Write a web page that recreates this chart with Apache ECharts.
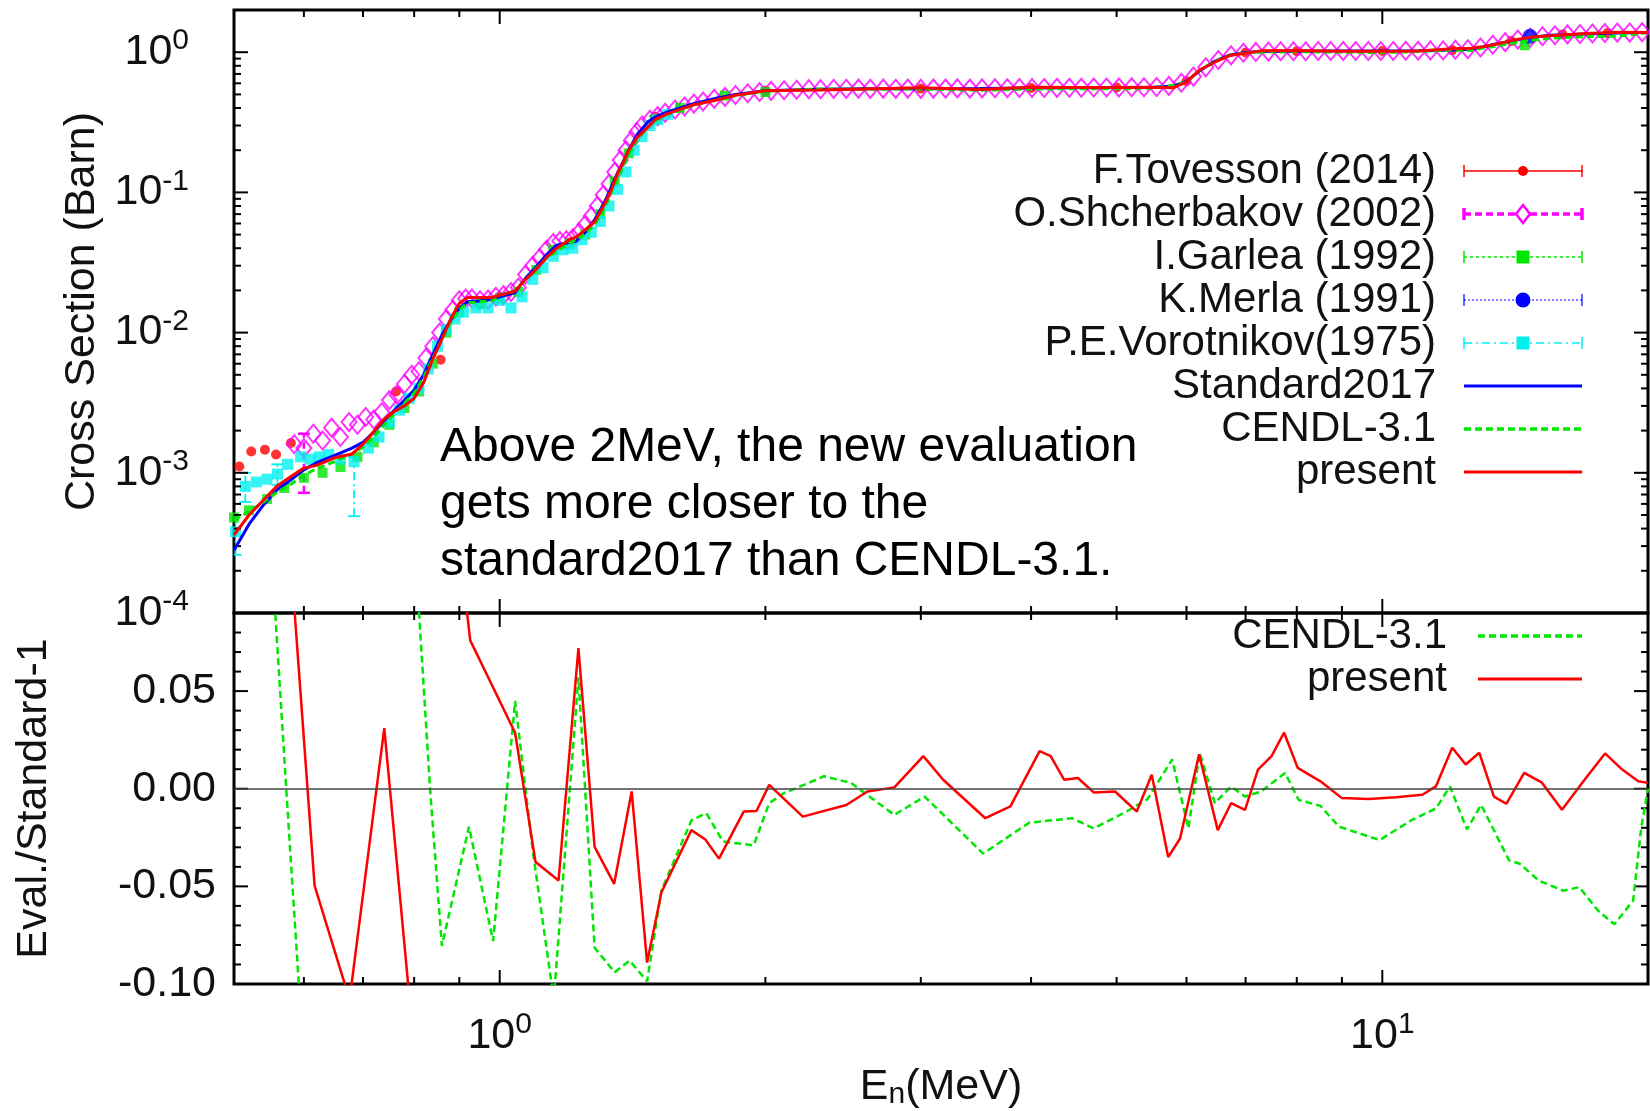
<!DOCTYPE html>
<html>
<head>
<meta charset="utf-8">
<script src="https://cdn.jsdelivr.net/npm/echarts@6.0.0/dist/echarts.min.js"></script>
<style>
  html, body { margin: 0; padding: 0; background: #fff; }
  #root { width: 1650px; height: 1111px; }
</style>
</head>
<body>
<div id="root"></div>
<script>
// ---- evaluated curves, energies in MeV, cross sections in barn ----
const curveE = [0.5, 0.52, 0.54, 0.56, 0.58, 0.6, 0.62, 0.65, 0.68, 0.7, 0.72, 0.74, 0.76, 0.78, 0.8, 0.82, 0.84, 0.86, 0.88, 0.9,
  0.92, 0.95, 0.98, 1.0, 1.04, 1.07, 1.1, 1.13, 1.16, 1.2, 1.22, 1.25, 1.28, 1.3, 1.32, 1.34, 1.36, 1.38, 1.4, 1.43,
  1.47, 1.5, 1.55, 1.65, 1.75, 1.85, 2.0, 2.3, 2.6, 3.0, 3.5, 4.0, 4.5, 5.0, 5.5, 5.8, 6.0, 6.2, 6.45, 6.7,
  7.0, 7.3, 8.0, 9.0, 10.0, 11.0, 12.0, 12.6, 13.0, 13.4, 14.0, 14.5, 15.0, 15.5, 17.0, 18.5, 20.0]
const standard2017 = [2.8e-4, 4.3e-4, 5.9e-4, 7.6e-4, 8.9e-4, 1.05e-3, 1.18e-3, 1.33e-3, 1.5e-3, 1.65e-3,
  1.95e-3, 2.35e-3, 2.8e-3, 3.3e-3, 3.9e-3, 5.0e-3, 7.0e-3, 9.6e-3, 0.0123, 0.015,
  0.0166, 0.0168, 0.0172, 0.018, 0.0192, 0.0245, 0.0295, 0.036, 0.042, 0.044,
  0.0448, 0.052, 0.0633, 0.075, 0.09, 0.112, 0.138, 0.165, 0.2, 0.256,
  0.316, 0.345, 0.375, 0.425, 0.465, 0.5, 0.53, 0.545, 0.548, 0.548,
  0.55, 0.555, 0.558, 0.56, 0.562, 0.575, 0.62, 0.73, 0.86, 0.95,
  0.995, 1.01, 1.015, 1.02, 1.02, 1.025, 1.035, 1.05, 1.09, 1.14,
  1.2, 1.25, 1.29, 1.32, 1.35, 1.37, 1.38]
const cendl31 = [4.6e-4, 5.3e-4, 6.2e-4, 7.3e-4, 8.3e-4, 9.6e-4, 1.07e-3, 1.2e-3, 1.36e-3, 1.52e-3,
  1.8e-3, 2.2e-3, 2.65e-3, 3.15e-3, 3.7e-3, 4.8e-3, 6.6e-3, 9.0e-3, 0.0118, 0.0146,
  0.0163, 0.0166, 0.0168, 0.0185, 0.0198, 0.0238, 0.0287, 0.034, 0.038, 0.0435,
  0.046, 0.0505, 0.0585, 0.068, 0.082, 0.102, 0.126, 0.152, 0.185, 0.235,
  0.29, 0.325, 0.361, 0.415, 0.454, 0.489, 0.526, 0.547, 0.545, 0.546,
  0.535, 0.546, 0.549, 0.548, 0.555, 0.58, 0.61, 0.74, 0.855, 0.945,
  0.99, 1.0, 1.01, 1.0, 0.995, 1.01, 1.035, 1.03, 1.07, 1.1,
  1.155, 1.2, 1.23, 1.26, 1.29, 1.3, 1.38]
const present = [3.6e-4, 5.0e-4, 6.4e-4, 8.1e-4, 9.4e-4, 1.08e-3, 1.13e-3, 1.28e-3, 1.36e-3, 1.6e-3,
  1.97e-3, 2.42e-3, 2.75e-3, 3.0e-3, 3.4e-3, 4.4e-3, 6.5e-3, 9.0e-3, 0.0125, 0.0162,
  0.0178, 0.0178, 0.0178, 0.0185, 0.0197, 0.024, 0.0283, 0.0344, 0.040, 0.046,
  0.048, 0.054, 0.0615, 0.0725, 0.087, 0.107, 0.137, 0.163, 0.2, 0.245,
  0.29, 0.33, 0.365, 0.418, 0.452, 0.493, 0.531, 0.538, 0.547, 0.557,
  0.542, 0.562, 0.561, 0.559, 0.562, 0.558, 0.613, 0.743, 0.845, 0.943,
  0.985, 1.025, 1.028, 1.015, 1.016, 1.022, 1.057, 1.068, 1.094, 1.136,
  1.21, 1.26, 1.295, 1.31, 1.36, 1.39, 1.384]

// ---- experimental data ----
const tovessonE = [0.507, 0.523, 0.542, 0.558, 0.58, 0.763, 0.857, 1.0, 1.2, 1.5, 2.0, 3.0, 4.0, 5.0, 6.0, 7.0, 8.0, 10.0, 12.0, 14.0, 16.0, 18.0]
const tovessonXS = [1.11e-3, 1.42e-3, 1.46e-3, 1.35e-3, 1.63e-3, 3.8e-3, 6.4e-3, 1.8e-2, 4.4e-2, 0.345, 0.53, 0.55, 0.555, 0.56, 0.62, 0.995, 1.015, 1.02, 1.035, 1.2, 1.34, 1.37]

const shcherbakovE = [0.585, 0.60, 0.615, 0.63, 0.645, 0.66, 0.675, 0.69, 0.705, 0.72,
  0.735, 0.75, 0.765, 0.78, 0.795, 0.81, 0.825, 0.84, 0.855, 0.87,
  0.885, 0.90, 0.915, 0.93, 0.95, 0.97, 0.99, 1.01, 1.03, 1.05,
  1.07, 1.09, 1.11, 1.13, 1.15, 1.17, 1.19, 1.21, 1.23, 1.25,
  1.27, 1.29, 1.31, 1.33, 1.35, 1.37, 1.39, 1.41, 1.43, 1.45,
  1.48, 1.51, 1.54, 1.58, 1.62, 1.66, 1.70, 1.75, 1.80, 1.85,
  1.91, 1.97, 2.03, 2.10, 2.17, 2.24, 2.31, 2.39, 2.47, 2.55,
  2.63, 2.72, 2.81, 2.90, 3.00, 3.10, 3.20, 3.30, 3.41, 3.52,
  3.64, 3.76, 3.88, 4.01, 4.14, 4.28, 4.42, 4.56, 4.71, 4.87,
  5.03, 5.20, 5.37, 5.55, 5.73, 5.92, 6.11, 6.31, 6.52, 6.74,
  6.96, 7.19, 7.43, 7.67, 7.93, 8.19, 8.46, 8.74, 9.03, 9.33,
  9.64, 9.96, 10.29, 10.63, 10.98, 11.34, 11.72, 12.10, 12.50, 12.92,
  13.34, 13.78, 14.24, 14.71, 15.19, 15.69, 16.21, 16.75, 17.30, 17.87,
  18.46, 19.07, 19.70]
const shcherbakovXS = [1.6e-3, 1.5e-3, 1.9e-3, 1.7e-3, 2.1e-3, 1.8e-3, 2.3e-3, 2.2e-3, 2.5e-3, 2.4e-3,
  2.7e-3, 3.3e-3, 3.6e-3, 4.3e-3, 5.0e-3, 5.3e-3, 6.6e-3, 8.0e-3, 1.0e-2, 1.25e-2,
  1.45e-2, 1.7e-2, 1.75e-2, 1.75e-2, 1.7e-2, 1.72e-2, 1.8e-2, 1.85e-2, 1.95e-2, 2.1e-2,
  2.6e-2, 3.0e-2, 3.4e-2, 3.9e-2, 4.35e-2, 4.5e-2, 4.55e-2, 4.7e-2, 5.2e-2, 5.9e-2,
  6.8e-2, 8.0e-2, 9.6e-2, 0.115, 0.14, 0.17, 0.2, 0.235, 0.27, 0.3,
  0.33, 0.35, 0.37, 0.39, 0.41, 0.43, 0.445, 0.465, 0.48, 0.495,
  0.51, 0.52, 0.53, 0.535, 0.54, 0.545, 0.545, 0.548, 0.548, 0.55,
  0.548, 0.55, 0.548, 0.55, 0.548, 0.55, 0.55, 0.552, 0.55, 0.552,
  0.553, 0.553, 0.555, 0.555, 0.556, 0.557, 0.558, 0.558, 0.56, 0.56,
  0.56, 0.562, 0.562, 0.565, 0.575, 0.605, 0.67, 0.78, 0.88, 0.95,
  0.99, 1.005, 1.01, 1.015, 1.015, 1.015, 1.02, 1.02, 1.02, 1.02,
  1.02, 1.02, 1.02, 1.025, 1.025, 1.03, 1.03, 1.04, 1.05, 1.08,
  1.13, 1.18, 1.23, 1.27, 1.3, 1.32, 1.34, 1.35, 1.36, 1.37,
  1.38, 1.38, 1.39]
const shcherbakovBars = [[0.6, 7.2e-4, 1.9e-3]]

const garleaE = [0.5, 0.52, 0.545, 0.57, 0.6, 0.63, 0.66, 0.69, 0.72, 0.75,
  0.78, 0.81, 0.84, 0.87, 0.9, 0.95, 1.0, 1.05, 1.1, 1.15,
  1.2, 1.25, 1.3, 1.35, 1.4, 1.5, 1.6, 1.8, 2.0, 14.5]
const garleaXS = [4.8e-4, 5.4e-4, 6.5e-4, 7.8e-4, 9.2e-4, 1.0e-3, 1.1e-3, 1.3e-3, 1.65e-3, 2.2e-3,
  2.9e-3, 3.8e-3, 6.0e-3, 1.0e-2, 1.4e-2, 1.6e-2, 1.75e-2, 1.95e-2, 2.8e-2, 3.9e-2,
  4.3e-2, 5.0e-2, 7.0e-2, 0.12, 0.19, 0.33, 0.4, 0.49, 0.52, 1.12]

const merlaE = [14.7]
const merlaXS = [1.3]

const vorotnikovE = [0.502, 0.515, 0.53, 0.545, 0.56, 0.575, 0.595, 0.61, 0.625, 0.64,
  0.66, 0.684, 0.71, 0.73, 0.75, 0.77, 0.79, 0.81, 0.83, 0.85,
  0.87, 0.89, 0.91, 0.94, 0.97, 1.0, 1.03, 1.06, 1.09, 1.12,
  1.15, 1.18, 1.21, 1.24, 1.27, 1.3, 1.33, 1.36, 1.39, 1.42,
  1.45, 1.48, 1.51, 1.55]
const vorotnikovXS = [3.8e-4, 8.0e-4, 8.6e-4, 9.0e-4, 9.8e-4, 1.15e-3, 1.3e-3, 1.25e-3, 1.3e-3, 1.35e-3,
  1.25e-3, 1.2e-3, 1.5e-3, 1.8e-3, 2.3e-3, 2.8e-3, 3.4e-3, 4.0e-3, 5.5e-3, 8.0e-3,
  1.05e-2, 1.25e-2, 1.4e-2, 1.5e-2, 1.5e-2, 1.7e-2, 1.5e-2, 1.8e-2, 2.4e-2, 2.9e-2,
  3.5e-2, 3.9e-2, 4.0e-2, 4.6e-2, 5.2e-2, 6.2e-2, 8.0e-2, 0.105, 0.14, 0.2,
  0.25, 0.3, 0.33, 0.36]
const vorotnikovBars = [[0.502, 2.6e-4, 5.0e-4], [0.515, 6.2e-4, 1.0e-3], [0.56, 8.2e-4, 1.15e-3], [0.684, 4.9e-4, 1.3e-3]]

// ---- Eval./Standard-1 ('-' = line leaves the frame) ----
const ratioCendlE = [0.548, 0.573, 0.596, 0.70, 0.80, 0.834, 0.86, 0.923, 0.983, 1.041,
  1.091, 1.144, 1.152, 1.228, 1.281, 1.35, 1.403, 1.469, 1.525, 1.65,
  1.715, 1.79, 1.94, 2.02, 2.1, 2.205, 2.33, 2.5, 2.8, 3.03,
  3.53, 3.98, 4.45, 4.71, 5.13, 5.42, 5.78, 6.03, 6.21, 6.46,
  6.74, 6.99, 7.29, 7.76, 8.04, 8.51, 8.93, 9.93, 10.8, 11.51,
  11.93, 12.47, 12.94, 13.92, 14.31, 15.04, 16.03, 16.72, 17.56, 18.32,
  19.24, 19.65, 20]
const ratioCendl = [0.14, 0.0, -0.12, '-', 0.13, -0.0005, -0.0805, -0.0195, -0.078, 0.045,
  -0.033, -0.0986, -0.107, 0.057, -0.0814, -0.094, -0.088, -0.0986, -0.052, -0.016,
  -0.0126, -0.027, -0.029, -0.0074, -0.0022, 0.0017, 0.0064, 0.003, -0.0134, -0.004,
  -0.0332, -0.0174, -0.0151, -0.0203, -0.0117, -0.0053, 0.015, -0.0203, 0.0184, -0.0074,
  0.0012, -0.004, -0.0014, 0.0081, -0.0057, -0.0088, -0.0194, -0.0263, -0.016, -0.01,
  0.0012, -0.0208, -0.0083, -0.0367, -0.0384, -0.047, -0.0522, -0.0504, -0.0625, -0.0694,
  -0.0573, -0.02, 0.0]
const ratioPresentE = [0.575, 0.617, 0.676, 0.74, 0.795, 0.85, 0.905, 0.926, 1.041, 1.098,
  1.166, 1.228, 1.281, 1.348, 1.411, 1.469, 1.525, 1.649, 1.71, 1.772,
  1.89, 1.954, 2.02, 2.205, 2.47, 2.61, 2.8, 3.02, 3.18, 3.55,
  3.79, 4.09, 4.21, 4.36, 4.52, 4.71, 4.98, 5.27, 5.48, 5.72,
  5.9, 6.2, 6.51, 6.74, 6.99, 7.23, 7.49, 7.74, 8.02, 8.51,
  9.0, 9.65, 10.36, 11.1, 11.5, 12.0, 12.43, 12.88, 13.38, 13.82,
  14.48, 15.15, 15.98, 16.95, 17.88, 18.7, 19.5, 20]
const ratioPresent = [0.14, -0.0496, -0.108, 0.031, -0.12, '-', 0.115, 0.076, 0.0287, -0.0375,
  -0.047, 0.072, -0.0298, -0.0487, -0.0014, -0.089, -0.053, -0.0212, -0.026, -0.0358,
  -0.0117, -0.0114, 0.002, -0.0143, -0.0083, -0.0014, 0.0007, 0.0167, 0.0046, -0.0151,
  -0.009, 0.0193, 0.0167, 0.0046, 0.0055, -0.0019, -0.0014, -0.0117, 0.0072, -0.035,
  -0.0255, 0.0176, -0.0212, -0.0074, -0.0108, 0.0098, 0.0167, 0.0287, 0.0107, 0.0038,
  -0.0048, -0.0053, -0.0043, -0.0031, 0.0012, 0.021, 0.0124, 0.0184, -0.004, -0.0077,
  0.0081, 0.0033, -0.0108, 0.0046, 0.0181, 0.0098, 0.0038, 0.003]

// ---- ticks ----
const xTicksMajor = [1, 10]
const xTicksMinor = [0.5, 0.6, 0.7, 0.8, 0.9, 2, 3, 4, 5, 6, 7, 8, 9, 20]
const yDecades = [1e-4, 1e-3, 1e-2, 1e-1, 1]
const yMantissas = [2, 3, 4, 5, 6, 7, 8, 9]
const yTicksMinorTop = yDecades.flatMap(d => yMantissas.map(m => m * d)).filter(v => v <= 2)
const yTicksMajorBottom = [-0.1, -0.05, 0, 0.05]
const yTicksMinorBottom = [-0.09, -0.08, -0.07, -0.06, -0.04, -0.03, -0.02, -0.01, 0.01, 0.02, 0.03, 0.04, 0.06, 0.07, 0.08]

const annotation = ['Above 2MeV, the new evaluation', 'gets more closer to the', 'standard2017 than CENDL-3.1.']

// ---- styles ----
const FONT = '"Liberation Sans", Arial, Helvetica, sans-serif'
const RED = '#ff0000'
const GREEN = '#00e600'
const BLUE = '#0000ff'
const MAGENTA = '#ff00ff'
const CYAN = '#00f0f0'
const TEXT = '#111'
const FS = 43
const MAJOR = 14
const MINOR = 7

const zip = (xs, ys) => xs.map((x, i) => [x, ys[i]])

const supRich = {
  b: { fontSize: FS, fontFamily: FONT, color: TEXT },
  s: { fontSize: 30, fontFamily: FONT, color: TEXT, verticalAlign: 'top', padding: [0, 0, 22, 0] }
}
const powLabel = v => '{b|10}{s|' + Math.round(Math.log10(v)) + '}'

function plainAxis (type, gridIndex, min, max, extra) {
  const a = {
    type, gridIndex, min, max,
    axisLine: { show: false, onZero: false },
    axisTick: { show: false },
    splitLine: { show: false },
    axisLabel: { show: false }
  }
  if (type === 'log') a.logBase = 10
  return Object.assign(a, extra || {})
}

const xAxes = [
  plainAxis('log', 0, 0.5, 20),
  plainAxis('log', 1, 0.5, 20, {
    axisLabel: { show: true, customValues: xTicksMajor, margin: 26, formatter: powLabel, rich: supRich },
    name: '{b|E}{n|n}{b|(MeV)}',
    nameLocation: 'middle',
    nameGap: 80,
    nameTextStyle: {
      rich: {
        b: { fontSize: FS, fontFamily: FONT, color: TEXT },
        n: { fontSize: 30, fontFamily: FONT, color: TEXT, verticalAlign: 'bottom', padding: [16, 0, 0, 0] }
      }
    }
  })
]

const yAxes = [
  plainAxis('log', 0, 1e-4, 2, {
    axisLabel: { show: true, customValues: yDecades, margin: 45, formatter: powLabel, rich: supRich },
    name: 'Cross Section (Barn)',
    nameLocation: 'middle',
    nameRotate: 90,
    nameGap: 128,
    nameTextStyle: { fontSize: FS, fontFamily: FONT, color: TEXT }
  }),
  plainAxis('value', 1, -0.1, 0.09, {
    axisLabel: {
      show: true, customValues: yTicksMajorBottom, margin: 18,
      formatter: v => v.toFixed(2), fontSize: FS, fontFamily: FONT, color: TEXT
    },
    name: 'Eval./Standard-1',
    nameLocation: 'middle',
    nameRotate: 90,
    nameGap: 178,
    nameTextStyle: { fontSize: FS, fontFamily: FONT, color: TEXT }
  })
]

// inward ticks on all four sides of a frame, placed through the axis scales
function frameTicks (axisIndex, xRef, yRef, yMajor, yMinor) {
  const data = [
    ...xTicksMajor.map(v => [v, yRef, MAJOR, 0]),
    ...xTicksMinor.map(v => [v, yRef, MINOR, 0]),
    ...yMajor.map(v => [xRef, v, MAJOR, 1]),
    ...yMinor.map(v => [xRef, v, MINOR, 1])
  ]
  return {
    type: 'custom',
    xAxisIndex: axisIndex,
    yAxisIndex: axisIndex,
    silent: true,
    clip: false,
    z: 3,
    dimensions: ['x', 'y', 'len', 'dir'],
    encode: { x: 0, y: 1 },
    data,
    renderItem (params, api) {
      const cs = params.coordSys
      const p = api.coord([api.value(0), api.value(1)])
      const len = api.value(2)
      const style = { stroke: '#000', lineWidth: 2 }
      const bottom = cs.y + cs.height
      const right = cs.x + cs.width
      const children = api.value(3) === 0
        ? [
            { type: 'line', shape: { x1: p[0], y1: bottom, x2: p[0], y2: bottom - len }, style },
            { type: 'line', shape: { x1: p[0], y1: cs.y, x2: p[0], y2: cs.y + len }, style }
          ]
        : [
            { type: 'line', shape: { x1: cs.x, y1: p[1], x2: cs.x + len, y2: p[1] }, style },
            { type: 'line', shape: { x1: right, y1: p[1], x2: right - len, y2: p[1] }, style }
          ]
      return { type: 'group', children }
    }
  }
}

function errorBars (data, color, dash, width) {
  return {
    type: 'custom',
    xAxisIndex: 0,
    yAxisIndex: 0,
    silent: true,
    clip: true,
    dimensions: ['x', 'lo', 'hi'],
    encode: { x: 0, y: [1, 2] },
    data,
    renderItem (params, api) {
      const lo = api.coord([api.value(0), api.value(1)])
      const hi = api.coord([api.value(0), api.value(2)])
      const cap = 6
      return {
        type: 'group',
        children: [
          { type: 'line', shape: { x1: lo[0], y1: lo[1], x2: hi[0], y2: hi[1] }, style: { stroke: color, lineWidth: width, lineDash: dash } },
          { type: 'line', shape: { x1: lo[0] - cap, y1: lo[1], x2: lo[0] + cap, y2: lo[1] }, style: { stroke: color, lineWidth: width } },
          { type: 'line', shape: { x1: hi[0] - cap, y1: hi[1], x2: hi[0] + cap, y2: hi[1] }, style: { stroke: color, lineWidth: width } }
        ]
      }
    }
  }
}

function scatter (name, data, symbol, size, itemStyle) {
  return { type: 'scatter', name, xAxisIndex: 0, yAxisIndex: 0, data, symbol, symbolSize: size, itemStyle, silent: true }
}

function line (name, data, color, width, dash, idx) {
  return {
    type: 'line', name, xAxisIndex: idx, yAxisIndex: idx, data,
    showSymbol: false, symbol: 'none', silent: true, clip: true, connectNulls: false,
    lineStyle: { color, width, type: dash || 'solid' }
  }
}

const series = [
  frameTicks(0, 1, 1e-2, yDecades, yTicksMinorTop),
  frameTicks(1, 1, 0, yTicksMajorBottom, yTicksMinorBottom),
  scatter('F.Tovesson (2014)', zip(tovessonE, tovessonXS), 'circle', 10, { color: RED }),
  errorBars(shcherbakovBars, MAGENTA, [7, 4], 2.5),
  scatter('O.Shcherbakov (2002)', zip(shcherbakovE, shcherbakovXS), 'diamond', [15, 18], { color: 'rgba(0,0,0,0)', borderColor: MAGENTA, borderWidth: 2 }),
  scatter('I.Garlea (1992)', zip(garleaE, garleaXS), 'rect', 10, { color: GREEN }),
  scatter('K.Merla (1991)', zip(merlaE, merlaXS), 'circle', 15, { color: BLUE }),
  errorBars(vorotnikovBars, CYAN, [8, 4, 2, 4], 1.8),
  scatter('P.E.Vorotnikov(1975)', zip(vorotnikovE, vorotnikovXS), 'rect', 11, { color: CYAN }),
  line('Standard2017', zip(curveE, standard2017), BLUE, 3, null, 0),
  line('CENDL-3.1', zip(curveE, cendl31), GREEN, 3, [7, 4], 0),
  line('present', zip(curveE, present), RED, 3, null, 0),
  Object.assign(line('CENDL-3.1 ratio', zip(ratioCendlE, ratioCendl), GREEN, 2.5, [7, 4], 1), {
    markLine: {
      silent: true, symbol: 'none', label: { show: false },
      lineStyle: { color: '#444', width: 1.5, type: 'solid' },
      data: [{ yAxis: 0 }]
    }
  }),
  line('present ratio', zip(ratioPresentE, ratioPresent), RED, 2.5, null, 1)
]

// ---- key drawn as graphic ----
const keyTop = [
  { name: 'F.Tovesson (2014)', color: RED, lw: 1.5, dash: null, cap: true, mark: 'circle', ms: 10 },
  { name: 'O.Shcherbakov (2002)', color: MAGENTA, lw: 3.5, dash: [7, 4], cap: true, mark: 'diamond', ms: 16 },
  { name: 'I.Garlea (1992)', color: GREEN, lw: 1.5, dash: [3, 3], cap: true, mark: 'rect', ms: 13 },
  { name: 'K.Merla (1991)', color: BLUE, lw: 1.2, dash: [2, 2], cap: true, mark: 'circle', ms: 15 },
  { name: 'P.E.Vorotnikov(1975)', color: CYAN, lw: 1.5, dash: [8, 4, 2, 4], cap: true, mark: 'rect', ms: 13 },
  { name: 'Standard2017', color: BLUE, lw: 3, dash: null },
  { name: 'CENDL-3.1', color: GREEN, lw: 3.5, dash: [7, 4] },
  { name: 'present', color: RED, lw: 3, dash: null }
]
const keyBottom = [
  { name: 'CENDL-3.1', color: GREEN, lw: 3.5, dash: [7, 4] },
  { name: 'present', color: RED, lw: 3, dash: null }
]

function keyEntry (k, y, textRight, x1, x2) {
  const out = [{
    type: 'text', x: textRight, y,
    style: { text: k.name, fill: TEXT, font: '42px ' + FONT, align: 'right', verticalAlign: 'middle', textAlign: 'right', textVerticalAlign: 'middle' }
  }, {
    type: 'line', shape: { x1, y1: y, x2, y2: y },
    style: { stroke: k.color, lineWidth: k.lw, lineDash: k.dash }
  }]
  if (k.cap) {
    out.push({ type: 'line', shape: { x1, y1: y - 6, x2: x1, y2: y + 6 }, style: { stroke: k.color, lineWidth: k.lw } })
    out.push({ type: 'line', shape: { x1: x2, y1: y - 6, x2, y2: y + 6 }, style: { stroke: k.color, lineWidth: k.lw } })
  }
  const cx = (x1 + x2) / 2
  const h = k.ms / 2
  if (k.mark === 'circle') out.push({ type: 'circle', shape: { cx, cy: y, r: h }, style: { fill: k.color } })
  if (k.mark === 'rect') out.push({ type: 'rect', shape: { x: cx - h, y: y - h, width: k.ms, height: k.ms }, style: { fill: k.color } })
  if (k.mark === 'diamond') {
    out.push({
      type: 'polygon',
      shape: { points: [[cx, y - h - 1], [cx + h - 1, y], [cx, y + h + 1], [cx - h + 1, y]] },
      style: { fill: '#fff', stroke: k.color, lineWidth: 2.5 }
    })
  }
  return out
}

const graphic = []
keyTop.forEach((k, i) => graphic.push(...keyEntry(k, 171 + i * 43, 1436, 1464, 1582)))
keyBottom.forEach((k, i) => graphic.push(...keyEntry(k, 636 + i * 43, 1447, 1478, 1582)))
graphic.push({
  type: 'text', x: 440, y: 419,
  style: { text: annotation.join('\n'), fill: '#000', font: '48px ' + FONT, lineHeight: 57, verticalAlign: 'top', textVerticalAlign: 'top' }
})

const chart = echarts.init(document.getElementById('root'))
chart.setOption({
  animation: false,
  grid: [
    { left: 234, top: 10, width: 1414, height: 603, show: true, borderColor: '#000', borderWidth: 3 },
    { left: 234, top: 613, width: 1414, height: 371, show: true, borderColor: '#000', borderWidth: 3 }
  ],
  xAxis: xAxes,
  yAxis: yAxes,
  series,
  graphic
})
</script>
</body>
</html>
